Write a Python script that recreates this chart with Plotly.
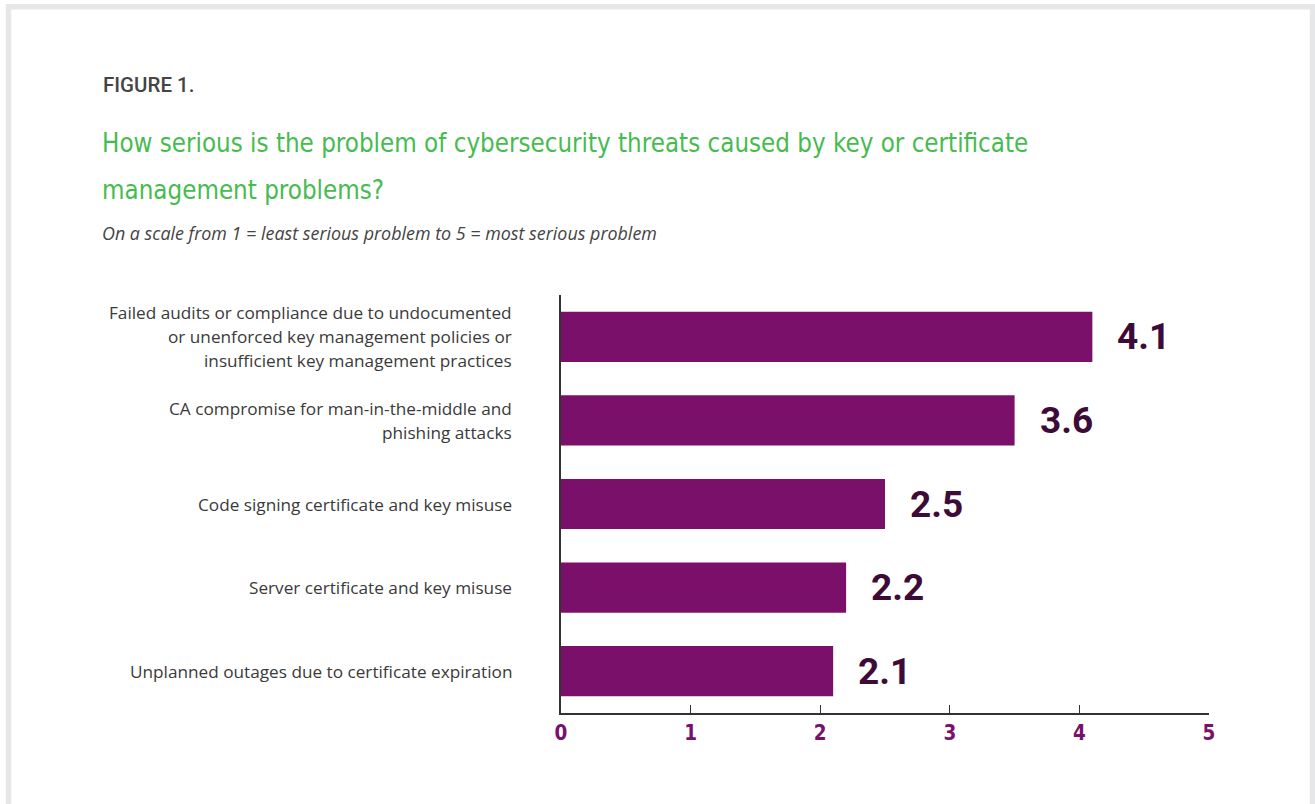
import plotly.graph_objects as go

# ---- data ----
categories = [
    "Failed audits or compliance due to undocumented<br>or unenforced key management policies or<br>insufficient key management practices",
    "CA compromise for man-in-the-middle and<br>phishing attacks",
    "Code signing certificate and key misuse",
    "Server certificate and key misuse",
    "Unplanned outages due to certificate expiration",
]
bar_values = [4.1, 3.5, 2.5, 2.2, 2.1]
value_labels = ["4.1", "3.6", "2.5", "2.2", "2.1"]
x_ticks = [0, 1, 2, 3, 4, 5]

figure_label = "FIGURE 1."
title_lines = [
    "How serious is the problem of cybersecurity threats caused by key or certificate",
    "management problems?",
]
subtitle = "On a scale from 1 = least serious problem to 5 = most serious problem"

# ---- layout geometry (pixels) ----
W, H = 1315, 804
L, R, T, B = 561, 1209, 295, 713
ml, mr, mt, mb = L, W - R, T, H - B

def px(x):
    return (x - L) / (R - L)

def py(y):
    return (B - y) / (B - T)

BAR = "#7b106b"
VAL = "#3d0b38"
TICK = "#7b106b"
GREEN = "#46bb4f"
GRAY = "#444444"
COND = "DejaVu Sans Condensed, sans-serif"

fig = go.Figure()
fig.add_trace(go.Bar(
    x=bar_values,
    y=list(range(len(categories))),
    orientation="h",
    marker=dict(color=BAR, line=dict(width=0)),
    hoverinfo="skip",
))

annotations = []
# value labels
for i, (v, lab) in enumerate(zip(bar_values, value_labels)):
    annotations.append(dict(
        x=v, y=i, xref="x", yref="y", text=lab, showarrow=False,
        xanchor="left", yanchor="middle", xshift=23,
        font=dict(family="Roboto, sans-serif", size=37, color=VAL, weight="bold"),
    ))
# category labels, one annotation per line for exact line spacing
LINE = 24
for i, cat in enumerate(categories):
    lines = cat.split("<br>")
    n = len(lines)
    for j, ln in enumerate(lines):
        annotations.append(dict(
            x=0, y=i, xref="x", yref="y", text=ln, showarrow=False,
            xanchor="right", yanchor="middle", align="right",
            xshift=-47, yshift=((n - 1) / 2 - j) * LINE,
            font=dict(family="Open Sans, sans-serif", size=17.2, color="#3a3a3a"),
        ))
# header texts
annotations.append(dict(
    x=px(101), y=py(85), xref="paper", yref="paper", text=figure_label,
    showarrow=False, xanchor="left", yanchor="middle",
    font=dict(family="Roboto, sans-serif", size=20.5, color=GRAY, weight=500),
))
for k, (ln, yy) in enumerate(zip(title_lines, [143, 190])):
    annotations.append(dict(
        x=px(100), y=py(yy), xref="paper", yref="paper", text=ln,
        showarrow=False, xanchor="left", yanchor="middle",
        font=dict(family=COND, size=25.7, color=GREEN),
    ))
annotations.append(dict(
    x=px(100), y=py(233), xref="paper", yref="paper", text=subtitle,
    showarrow=False, xanchor="left", yanchor="middle",
    font=dict(family="Open Sans, sans-serif", size=17.9, color=GRAY, style="italic"),
))

fig.update_layout(
    width=W, height=H,
    margin=dict(l=ml, r=mr, t=mt, b=mb, pad=0),
    paper_bgcolor="white", plot_bgcolor="white",
    showlegend=False,
    bargap=0.40,
    annotations=annotations,
    shapes=[dict(
        type="rect", xref="paper", yref="paper",
        x0=px(8.5), x1=px(1312.5), y0=py(840), y1=py(6.8),
        line=dict(color="#e6e7e8", width=5.5), fillcolor="rgba(0,0,0,0)",
        layer="below",
    )],
    xaxis=dict(
        range=[0, 5], tickvals=x_ticks, ticktext=[str(t) for t in x_ticks],
        showgrid=False, zeroline=False,
        showline=True, linecolor="#333333", linewidth=1.5,
        ticks="inside", ticklen=8, tickwidth=1.2, tickcolor="#333333",
        ticklabelstandoff=1,
        tickfont=dict(family=COND, size=20.5, color=TICK, weight="bold"),
        fixedrange=True,
    ),
    yaxis=dict(
        range=[len(categories) - 0.5, -0.5],
        showgrid=False, zeroline=False, showticklabels=False,
        showline=True, linecolor="#333333", linewidth=1.5, ticks="",
        fixedrange=True,
    ),
)

fig.write_html("out.html", config=dict(displayModeBar=False))
